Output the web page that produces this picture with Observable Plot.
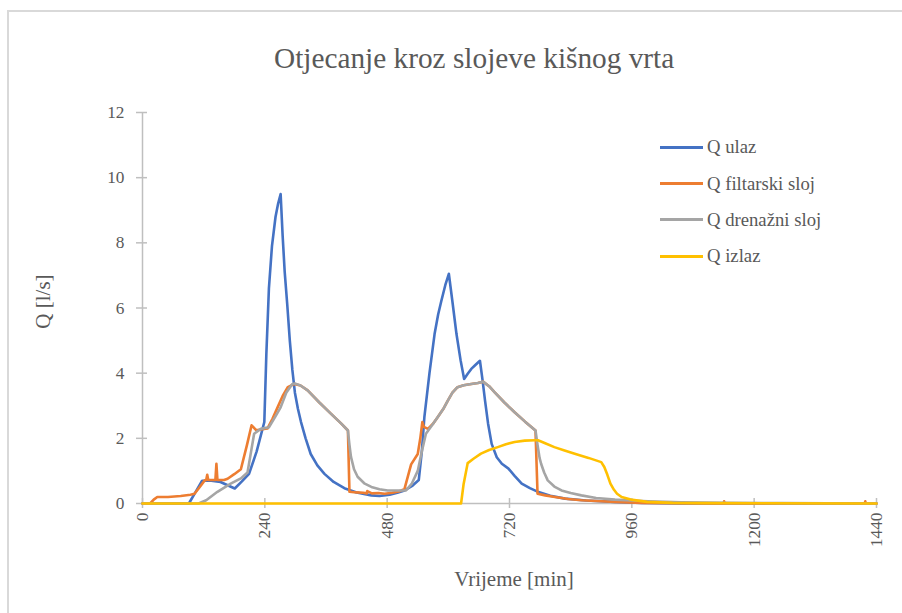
<!DOCTYPE html>
<html>
<head>
<meta charset="utf-8">
<script src="https://cdn.jsdelivr.net/npm/d3@7"></script>
<script src="https://cdn.jsdelivr.net/npm/@observablehq/plot@0.6"></script>
<style>
  html, body { margin: 0; padding: 0; background: #fff; }
  #wrap { position: relative; width: 902px; height: 613px; overflow: hidden;
          font-family: "Liberation Serif", "Times New Roman", Tinos, "DejaVu Serif", serif; color: #595959; }
  #frame { position: absolute; left: 7px; top: 10px; width: 1200px; height: 1200px;
           border-left: 2px solid #d9d9d9; border-top: 2px solid #d9d9d9; box-sizing: border-box; }
  #chart { position: absolute; left: 0; top: 0; }
  #title { position: absolute; left: 274px; width: 400px; top: 44px; text-align: center;
           font-size: 29.3px; line-height: 1; white-space: nowrap; }
  #xtitle { position: absolute; left: 414px; width: 200px; top: 569px; text-align: center;
            font-size: 21px; line-height: 1; white-space: nowrap; }
  #ytitle { position: absolute; left: -57px; width: 200px; top: 291px; text-align: center;
            font-size: 21px; line-height: 1; white-space: nowrap; transform: rotate(-90deg); }
  #legend { position: absolute; left: 660px; top: 129px; }
  .item { display: flex; align-items: center; height: 36.4px; font-size: 18.7px; white-space: nowrap; }
  .sw { width: 43px; height: 3px; margin-right: 4px; }
</style>
</head>
<body>
<div id="wrap">
  <div id="frame"></div>
  <div id="chart"></div>
  <div id="title">Otjecanje kroz slojeve kišnog vrta</div>
  <div id="ytitle">Q [l/s]</div>
  <div id="xtitle">Vrijeme [min]</div>
  <div id="legend"></div>
</div>
<script>
// ---- Data (time in minutes, Q in l/s) ----
const seriesNames = ["Q ulaz", "Q filtarski sloj", "Q drenažni sloj", "Q izlaz"];
const seriesColors = ["#4472C4", "#ED7D31", "#A5A5A5", "#FFC000"];
const xTicks = [0, 240, 480, 720, 960, 1200, 1440];
const yTicks = [0, 2, 4, 6, 8, 10, 12];

const tUlaz = [0, 91, 104, 117, 135, 153, 167, 181, 195, 209, 224, 239, 243, 248, 254, 261, 266, 271, 275, 279, 284, 289, 294, 299, 305, 311, 320, 330, 343, 357, 375, 396, 420, 449, 465, 485, 500, 514, 530, 542, 548, 553, 563, 573, 580, 586, 594, 601, 608, 616, 624, 631, 638, 645, 653, 662, 667, 672, 678, 685, 695, 705, 718, 730, 744, 760, 777, 800, 829, 870, 927, 980, 1050, 1440];
const qUlaz = [0, 0, 0.35, 0.7, 0.7, 0.66, 0.56, 0.46, 0.68, 0.91, 1.6, 2.5, 4.6, 6.6, 7.9, 8.8, 9.2, 9.5, 8.2, 7.1, 6.1, 5.0, 4.1, 3.4, 2.9, 2.5, 2.0, 1.52, 1.17, 0.91, 0.66, 0.47, 0.34, 0.25, 0.23, 0.27, 0.33, 0.4, 0.55, 0.72, 1.6, 2.65, 4.0, 5.2, 5.8, 6.2, 6.7, 7.05, 6.2, 5.2, 4.4, 3.82, 3.98, 4.13, 4.25, 4.38, 3.8, 3.16, 2.45, 1.83, 1.42, 1.22, 1.07, 0.85, 0.61, 0.47, 0.35, 0.24, 0.15, 0.09, 0.05, 0.02, 0, 0];

const tFilt = [0, 15, 22, 29, 50, 75, 94, 102, 112, 122, 125, 127, 129, 143, 145, 147, 160, 167, 180, 193, 205, 214, 223, 235, 245, 255, 265, 275, 285, 298, 310, 324, 347, 370, 390, 403, 406, 420, 433, 440, 441, 450, 463, 475, 490, 505, 514, 527, 540, 545, 549, 552, 560, 570, 579, 590, 599, 608, 618, 630, 645, 658, 668, 680, 691, 710, 730, 750, 771, 775, 790, 809, 835, 861, 900, 927, 980, 1050, 1140, 1141, 1142, 1417, 1418, 1419, 1440];
const qFilt = [0, 0, 0.12, 0.2, 0.2, 0.23, 0.27, 0.3, 0.5, 0.71, 0.72, 0.88, 0.72, 0.72, 1.22, 0.72, 0.72, 0.76, 0.9, 1.05, 1.8, 2.4, 2.25, 2.28, 2.3, 2.6, 2.95, 3.3, 3.57, 3.67, 3.62, 3.47, 3.1, 2.75, 2.45, 2.24, 0.36, 0.34, 0.33, 0.31, 0.38, 0.31, 0.32, 0.3, 0.33, 0.38, 0.45, 1.2, 1.52, 2.0, 2.5, 2.35, 2.29, 2.45, 2.65, 2.9, 3.16, 3.4, 3.57, 3.63, 3.67, 3.7, 3.74, 3.6, 3.41, 3.1, 2.8, 2.52, 2.24, 0.3, 0.25, 0.2, 0.14, 0.1, 0.07, 0.05, 0.02, 0.01, 0, 0.07, 0, 0, 0.07, 0, 0];

const tDren = [0, 110, 125, 147, 173, 193, 206, 212, 219, 232, 248, 260, 271, 282, 294, 300, 310, 324, 347, 370, 390, 403, 406, 409, 415, 422, 435, 449, 465, 481, 500, 517, 528, 540, 548, 556, 568, 579, 590, 599, 608, 618, 630, 645, 658, 668, 680, 691, 710, 730, 750, 771, 775, 779, 782, 788, 795, 808, 822, 840, 861, 890, 927, 960, 992, 1057, 1150, 1250, 1440];
const qDren = [0, 0, 0.1, 0.36, 0.61, 0.77, 0.95, 1.5, 2.14, 2.29, 2.34, 2.65, 2.95, 3.4, 3.67, 3.68, 3.62, 3.47, 3.1, 2.75, 2.45, 2.24, 1.8, 1.43, 1.05, 0.82, 0.62, 0.51, 0.44, 0.4, 0.4, 0.4, 0.6, 1.0, 1.6, 2.14, 2.4, 2.65, 2.9, 3.16, 3.4, 3.57, 3.63, 3.67, 3.7, 3.74, 3.6, 3.41, 3.1, 2.8, 2.52, 2.24, 1.8, 1.4, 1.22, 0.95, 0.71, 0.52, 0.4, 0.32, 0.25, 0.17, 0.12, 0.09, 0.07, 0.04, 0.02, 0.01, 0];

const tIzlaz = [0, 625, 630, 638, 650, 664, 680, 697, 713, 730, 750, 770, 776, 790, 808, 828, 848, 875, 900, 906, 912, 918, 925, 931, 940, 958, 990, 1040, 1100, 1440];
const qIzlaz = [0, 0, 0.6, 1.24, 1.38, 1.53, 1.64, 1.73, 1.82, 1.89, 1.93, 1.94, 1.94, 1.85, 1.73, 1.63, 1.53, 1.4, 1.27, 1.12, 0.88, 0.61, 0.42, 0.3, 0.2, 0.12, 0.05, 0.02, 0.01, 0];

const seriesT = [tUlaz, tFilt, tDren, tIzlaz];
const seriesQ = [qUlaz, qFilt, qDren, qIzlaz];

// ---- Build chart ----
const W = 902, H = 613;
const mL = 142, mR = 26, mT = 112, mB = 110;
const frameW = W - mL - mR, frameH = H - mT - mB;
const axisColor = "#bfbfbf";
const fontStack = "'Liberation Serif', 'Times New Roman', Tinos, 'DejaVu Serif', serif";

const lineMarks = seriesT.map((ts, i) =>
  Plot.line(ts.map((t, j) => ({t, q: seriesQ[i][j]})),
    {x: "t", y: "q", stroke: seriesColors[i], strokeWidth: 2.6, strokeLinejoin: "round", strokeLinecap: "round"})
);

const chart = Plot.plot({
  width: W, height: H,
  marginLeft: mL, marginRight: mR, marginTop: mT, marginBottom: mB,
  style: {fontFamily: fontStack, color: "#595959", background: "transparent", overflow: "visible"},
  x: {domain: [0, 1440]},
  y: {domain: [0, 12]},
  marks: [
    Plot.ruleX([0], {y1: 0, y2: 12, stroke: axisColor, strokeWidth: 1.5}),
    Plot.ruleY([0], {x1: 0, x2: 1440, stroke: axisColor, strokeWidth: 1.5}),
    Plot.tickY(yTicks, {y: d => d, stroke: axisColor, strokeWidth: 1.5, insetRight: frameW - 11, dx: -6}),
    Plot.tickX(xTicks, {x: d => d, stroke: axisColor, strokeWidth: 1.5, insetTop: frameH - 10, dy: 5}),
    Plot.axisY({ticks: yTicks, tickSize: 0, tickPadding: 18, fontSize: 17.3, label: null, tickFormat: d => String(d)}),
    Plot.axisX({ticks: xTicks, tickSize: 0, tickPadding: 9, tickRotate: -90, fontSize: 17.3, label: null, tickFormat: d => String(d)}),
    ...lineMarks
  ]
});
document.getElementById("chart").appendChild(chart);

// ---- Legend ----
const legend = document.getElementById("legend");
seriesNames.forEach((name, i) => {
  const row = document.createElement("div");
  row.className = "item";
  const sw = document.createElement("span");
  sw.className = "sw";
  sw.style.background = seriesColors[i];
  const label = document.createElement("span");
  label.textContent = name;
  row.appendChild(sw);
  row.appendChild(label);
  legend.appendChild(row);
});
</script>
</body>
</html>
